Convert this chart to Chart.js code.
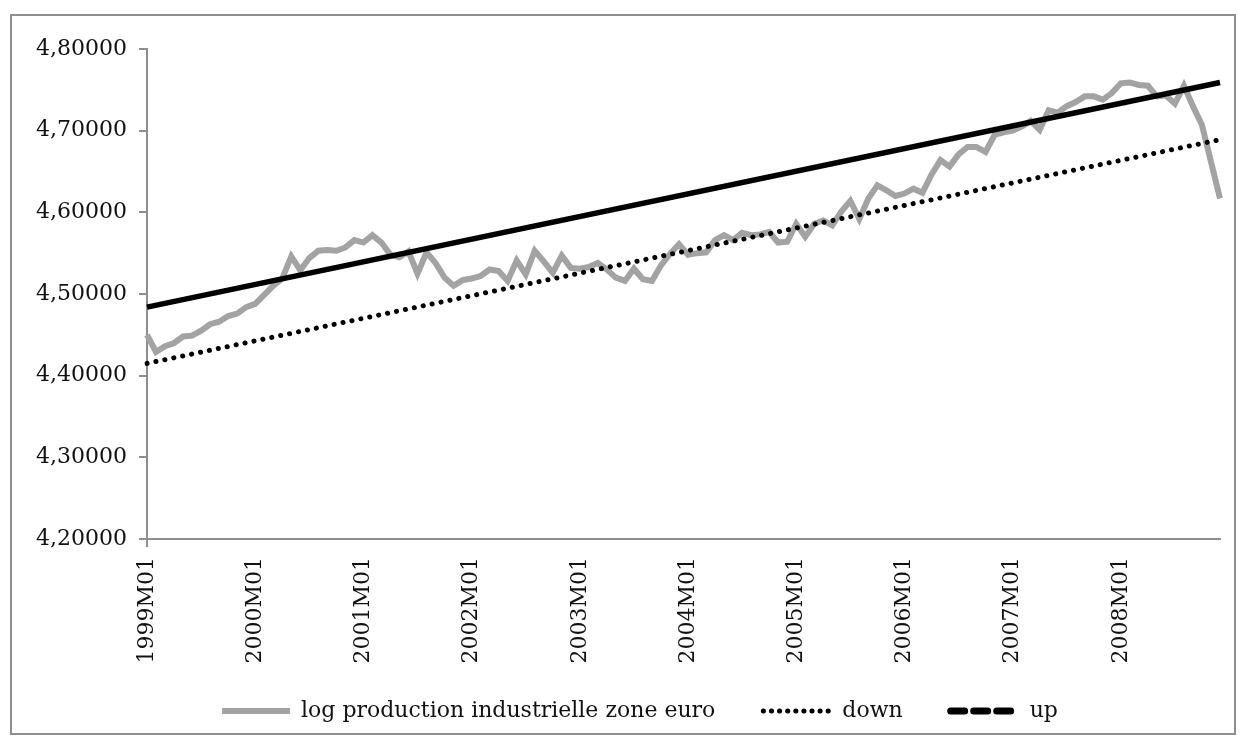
<!DOCTYPE html>
<html>
<head>
<meta charset="utf-8">
<script src="https://cdn.jsdelivr.net/npm/chart.js@4.4.1/dist/chart.umd.min.js"></script>
<style>
  html, body { margin: 0; padding: 0; background: #fff; }
  #frame { position: absolute; left: 10px; top: 14px; width: 1222px; height: 717px; border: 2px solid #8e8e8e; }
  canvas { display: block; }
</style>
</head>
<body>
<div id="frame"><canvas id="chart" width="1222" height="717"></canvas></div>
<script>
const years = [1999, 2000, 2001, 2002, 2003, 2004, 2005, 2006, 2007, 2008];
const months = ["01", "02", "03", "04", "05", "06", "07", "08", "09", "10", "11", "12"];

// log production industrielle zone euro, monthly 1999M01 - 2008M12
const logProduction = [
  4.450, 4.429, 4.436, 4.440, 4.448, 4.449, 4.455, 4.463, 4.466, 4.473, 4.476, 4.484,
  4.488, 4.499, 4.510, 4.519, 4.546, 4.529, 4.544, 4.553, 4.554, 4.553, 4.557, 4.566,
  4.563, 4.572, 4.563, 4.548, 4.545, 4.552, 4.525, 4.551, 4.538, 4.520, 4.510, 4.517,
  4.519, 4.522, 4.530, 4.528, 4.516, 4.541, 4.524, 4.553, 4.540, 4.526, 4.547, 4.532,
  4.531, 4.533, 4.538, 4.530, 4.520, 4.516, 4.531, 4.518, 4.516, 4.535, 4.549, 4.561,
  4.548, 4.550, 4.551, 4.566, 4.572, 4.566, 4.575, 4.572, 4.573, 4.576, 4.563, 4.564,
  4.586, 4.570, 4.586, 4.590, 4.584, 4.601, 4.614, 4.592, 4.617, 4.633, 4.627, 4.620,
  4.623, 4.629, 4.624, 4.646, 4.664, 4.656, 4.671, 4.680, 4.680, 4.674, 4.695, 4.698,
  4.700, 4.705, 4.712, 4.701, 4.725, 4.722, 4.730, 4.735, 4.742, 4.742, 4.738, 4.746,
  4.758, 4.759, 4.756, 4.755, 4.742, 4.743, 4.733, 4.755, 4.730, 4.707, 4.662, 4.617
];

// trend lines: value at first and last month
const downEnds = [4.415, 4.689];
const upEnds = [4.484, 4.759];

const yTicks = [4.2, 4.3, 4.4, 4.5, 4.6, 4.7, 4.8];

const labels = [];
years.forEach(y => months.forEach(m => labels.push(y + "M" + m)));

function endsOnly(ends) {
  const arr = labels.map(() => null);
  arr[0] = ends[0];
  arr[arr.length - 1] = ends[1];
  return arr;
}

const axisGrey = '#8e8e8e';
const font = { family: 'DejaVu Serif', size: 22 };

const baseLabels = Chart.defaults.plugins.legend.labels.generateLabels;

// legend: keep its box short (so the x labels get room) and nudge it
// right/up to where the reference puts it
const legendShift = {
  id: 'legendShift',
  afterLayout(chart) {
    const lg = chart.legend;
    if (!lg) return;
    lg.left += 48;
    lg.top -= 27;
  }
};

new Chart(document.getElementById('chart'), {
  type: 'line',
  data: {
    labels: labels,
    datasets: [
      {
        label: 'log production industrielle zone euro',
        data: logProduction,
        borderColor: '#a3a3a3',
        backgroundColor: '#a3a3a3',
        borderWidth: 6,
        pointRadius: 0,
        tension: 0,
        order: 2
      },
      {
        label: 'down',
        data: endsOnly(downEnds),
        borderColor: '#000',
        backgroundColor: '#000',
        borderWidth: 5,
        borderDash: [0.1, 9],
        borderCapStyle: 'round',
        pointRadius: 0,
        spanGaps: true,
        order: 1
      },
      {
        label: 'up',
        data: endsOnly(upEnds),
        borderColor: '#000',
        backgroundColor: '#000',
        borderWidth: 5.5,
        pointRadius: 0,
        spanGaps: true,
        order: 0
      }
    ]
  },
  plugins: [legendShift],
  options: {
    responsive: false,
    animation: false,
    layout: { padding: { top: 33, right: 14, left: 0, bottom: 0 } },
    scales: {
      x: {
        afterFit: s => { s.height = 140; },
        border: { color: axisGrey, width: 2 },
        grid: {
          drawOnChartArea: false,
          tickLength: 8,
          lineWidth: 2,
          color: c => (labels[c.index] || '').endsWith('M01') ? axisGrey : 'rgba(0,0,0,0)'
        },
        ticks: {
          autoSkip: false,
          maxRotation: 90,
          minRotation: 90,
          padding: 10,
          color: '#111',
          font: font,
          callback: (v, i) => labels[i].endsWith('M01') ? labels[i] : null
        }
      },
      y: {
        min: yTicks[0],
        max: yTicks[yTicks.length - 1],
        afterFit: s => { s.width = 135; },
        afterBuildTicks: s => { s.ticks = yTicks.map(v => ({ value: v })); },
        border: { color: axisGrey, width: 2 },
        grid: { drawOnChartArea: false, tickLength: 8, lineWidth: 2, color: axisGrey },
        ticks: {
          padding: 12,
          color: '#111',
          font: font,
          callback: v => v.toFixed(5).replace('.', ',')
        }
      }
    },
    plugins: {
      tooltip: { enabled: false },
      legend: {
        position: 'bottom',
        maxHeight: 54,
        labels: {
          usePointStyle: true,
          pointStyle: 'line',
          pointStyleWidth: 68,
          padding: 48,
          color: '#111',
          font: font,
          sort: (a, b) => a.datasetIndex - b.datasetIndex,
          generateLabels: chart => {
            const items = baseLabels(chart);
            items.forEach(it => {
              it.pointStyle = 'line';
              if (it.text === 'up') {
                it.lineDash = [14, 9];
                it.lineCap = 'round';
                it.lineWidth = 7;
              }
              if (it.text === 'down') {
                it.lineDash = [0.1, 8];
                it.lineCap = 'round';
                it.lineWidth = 5;
              }
            });
            return items;
          }
        }
      }
    }
  }
});
</script>
</body>
</html>
